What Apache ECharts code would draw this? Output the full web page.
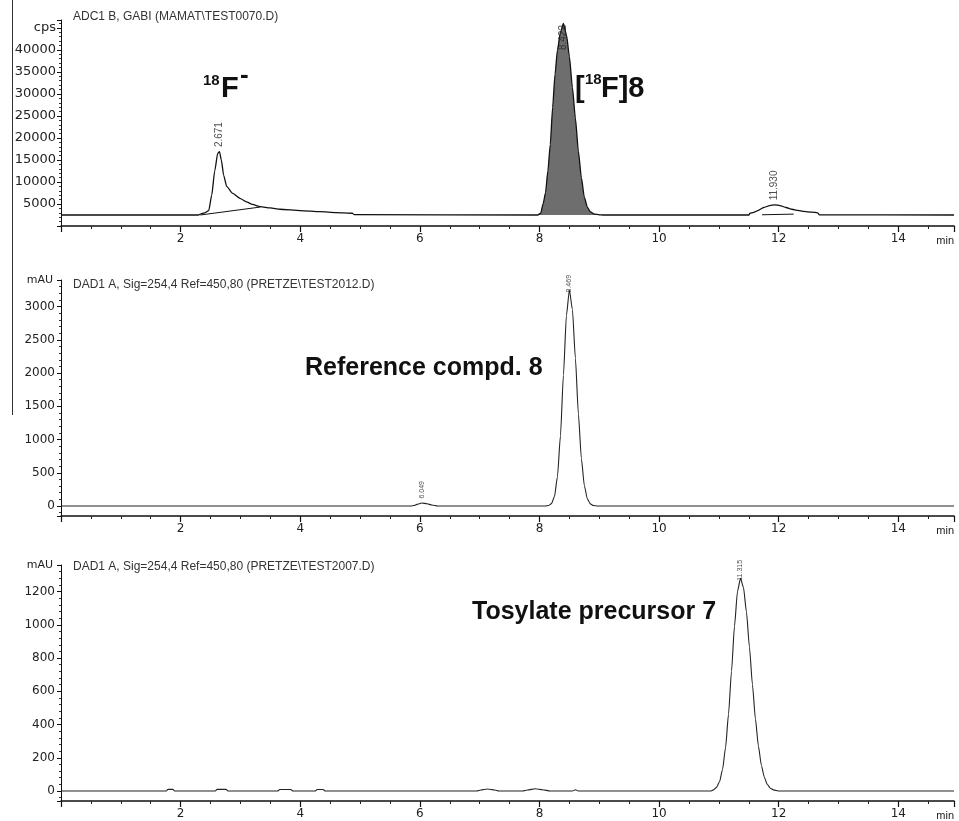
<!DOCTYPE html>
<html>
<head>
<meta charset="utf-8">
<script src="https://cdn.jsdelivr.net/npm/echarts@6/dist/echarts.min.js"></script>
<style>html,body{margin:0;padding:0;background:#fff}#c{width:959px;height:821px}</style>
</head>
<body>
<div id="c"></div>
<script>
// ---------------- DATA ----------------
// Panel 1: radio detector (cps) vs time (min)
const topSignal = [
  [0, 2500], [2.30, 2500], [2.33, 2700], [2.40, 3000], [2.47, 3500], [2.52, 7000], [2.57, 12500],
  [2.62, 16500], [2.65, 16900], [2.68, 15000], [2.72, 11500], [2.77, 9000], [2.87, 7400],
  [3.00, 6200], [3.10, 5500], [3.20, 4900], [3.33, 4400], [3.50, 4100], [3.66, 3800],
  [4.00, 3500], [4.33, 3250], [4.60, 3050], [4.87, 2900], [4.90, 2600],
  [7.97, 2500], [8.02, 2900], [8.06, 5000], [8.10, 7500], [8.14, 12500], [8.18, 18500],
  [8.22, 27000], [8.26, 34500], [8.30, 40000], [8.35, 44000], [8.40, 46000], [8.45, 43500],
  [8.50, 38500], [8.55, 31500], [8.60, 24500], [8.65, 17000], [8.70, 11000], [8.75, 6500],
  [8.80, 4300], [8.85, 3200], [8.92, 2700], [9.00, 2550], [9.06, 2500],
  [11.50, 2500], [11.52, 2900], [11.58, 3100], [11.65, 3500], [11.75, 4200], [11.85, 4650],
  [11.93, 4800], [12.02, 4650], [12.12, 4200], [12.22, 3800], [12.32, 3550], [12.42, 3300],
  [12.55, 3150], [12.65, 3000], [12.68, 2550], [14.93, 2500]
];
const topIntegration1 = [[2.33, 2500], [3.33, 4300]];
const topIntegration2 = [[11.72, 2550], [12.25, 2700]];
const topFillRange = [7.97, 9.07];
const topPeakLabels = [['2.671', 2.65], ['8.422', 8.40], ['11.930', 11.93]];

// Panel 2: UV (mAU) reference compound 8
const midSignal = [
  [0, 0], [5.85, 0], [5.90, 8], [5.95, 25], [6.03, 45], [6.12, 35], [6.20, 15], [6.30, 0],
  [8.10, 0], [8.15, 7], [8.20, 36], [8.25, 143], [8.30, 440], [8.35, 1055], [8.40, 1971],
  [8.45, 2868], [8.50, 3250], [8.55, 2957], [8.60, 2227], [8.65, 1388], [8.70, 716],
  [8.75, 306], [8.80, 108], [8.85, 32], [8.90, 8], [8.97, 0], [14.93, 0]
];
const midPeakLabels = [['6.049', 6.03], ['8.469', 8.50]];

// Panel 3: UV (mAU) tosylate precursor 7
const botSignal = [
  [0, 0], [1.76, 0], [1.79, 10], [1.87, 10], [1.90, 0], [2.58, 0], [2.61, 10], [2.76, 10], [2.79, 0],
  [3.62, 0], [3.66, 9], [3.84, 9], [3.88, 0], [4.25, 0], [4.28, 9], [4.38, 9], [4.42, 0],
  [6.95, 0], [7.02, 6], [7.13, 12], [7.25, 6], [7.32, 0], [7.72, 0], [7.80, 6], [7.93, 14],
  [8.05, 8], [8.18, 0], [8.55, 0], [8.60, 8], [8.65, 0],
  [10.86, 0], [10.91, 7], [10.96, 22], [11.01, 56], [11.06, 129], [11.11, 260], [11.16, 461],
  [11.21, 721], [11.26, 992], [11.31, 1200], [11.36, 1280], [11.41, 1226], [11.46, 1077],
  [11.51, 867], [11.56, 641], [11.61, 434], [11.66, 270], [11.71, 154], [11.76, 81],
  [11.81, 39], [11.86, 17], [11.91, 7], [12.01, 0], [14.93, 0]
];
const botPeakLabels = [['11.315', 11.36]];

const xTicks = [2, 4, 6, 8, 10, 12, 14];
const titles = [
  'ADC1 B, GABI (MAMAT\\TEST0070.D)',
  'DAD1 A, Sig=254,4 Ref=450,80 (PRETZE\\TEST2012.D)',
  'DAD1 A, Sig=254,4 Ref=450,80 (PRETZE\\TEST2007.D)'
];

// ---------------- CHART ----------------
const FONT = 'Liberation Sans, Arial, sans-serif';
const TICKFONT = 'DejaVu Sans, sans-serif';
const chart = echarts.init(document.getElementById('c'), null, {renderer: 'canvas'});

function peakAt(sig, t) {
  let best = null;
  sig.forEach(p => { if (Math.abs(p[0] - t) <= 0.2 && (!best || p[1] > best[1])) best = p; });
  return best;
}
function labelSeries(labels, sig, idx, fontSize, extra) {
  return {
    type: 'scatter', xAxisIndex: idx, yAxisIndex: idx, symbolSize: 1, z: 5,
    itemStyle: {color: 'rgba(0,0,0,0)'}, silent: true,
    data: labels.map(l => {
      const p = peakAt(sig, l[1]);
      const e = (extra && extra[l[0]]) || {};
      return {
        value: [p[0], p[1]],
        label: Object.assign({
          show: true, formatter: l[0], rotate: 90, position: 'top', distance: 4,
          align: 'left', verticalAlign: 'middle', fontSize: fontSize, color: '#222', fontFamily: FONT
        }, e)
      };
    })
  };
}
function xAxis(i) {
  return {
    type: 'value', gridIndex: i, min: 0, max: 14.93, interval: 2,
    name: 'min', nameLocation: 'end', nameGap: 0,
    nameTextStyle: {align: 'right', verticalAlign: 'top', padding: [9, 0, 0, 0], fontSize: 11, color: '#222', fontFamily: FONT},
    axisLine: {show: true, onZero: false, lineStyle: {color: '#111', width: 1.5}},
    axisTick: {show: true, length: 6, lineStyle: {color: '#111', width: 1.2}},
    minorTick: {show: true, splitNumber: 4, length: 3, lineStyle: {color: '#222'}},
    splitLine: {show: false}, minorSplitLine: {show: false},
    axisLabel: {
      margin: 7, fontSize: 12, color: '#222', fontFamily: TICKFONT, showMinLabel: true, showMaxLabel: true,
      formatter: v => xTicks.indexOf(Math.round(v * 1000) / 1000) >= 0 ? String(v) : ''
    }
  };
}
function yAxisBase(i) {
  return {
    type: 'value', gridIndex: i,
    axisLine: {show: true, onZero: false, lineStyle: {color: '#111', width: 1}},
    axisTick: {show: true, length: 4, lineStyle: {color: '#111'}},
    minorTick: {show: true, splitNumber: 5, length: 2, lineStyle: {color: '#333'}},
    splitLine: {show: false}, minorSplitLine: {show: false},
    nameTextStyle: {align: 'right', verticalAlign: 'middle', padding: [0, 8, 0, 0], fontSize: 11, color: '#222', fontFamily: TICKFONT},
    nameLocation: 'end', nameGap: 0
  };
}
const yTop = Object.assign(yAxisBase(0), {
  min: 0, max: 46800, interval: 5000,
  axisLabel: {margin: 5, fontSize: 13, color: '#222', fontFamily: TICKFONT,
    formatter: v => v === 45000 ? 'cps' : (v > 0 && v % 5000 === 0 ? String(v) : '')}
});
const yMid = Object.assign(yAxisBase(1), {
  min: -150, max: 3400, splitNumber: 7, name: 'mAU',
  axisLabel: {margin: 6, fontSize: 12, color: '#222', fontFamily: TICKFONT,
    formatter: v => (v % 500 === 0 ? String(v) : '')}
});
const yBot = Object.assign(yAxisBase(2), {
  min: -60, max: 1360, splitNumber: 7, name: 'mAU',
  axisLabel: {margin: 6, fontSize: 12, color: '#222', fontFamily: TICKFONT,
    formatter: v => (v % 200 === 0 ? String(v) : '')}
});

const lineBase = {type: 'line', symbol: 'none', smooth: 0.2, smoothMonotone: 'x', silent: true};

function txt(x, y, text, size, bold, extra) {
  return {type: 'text', x: x, y: y, silent: true, z: 10,
    style: Object.assign({text: text, fontSize: size, fontWeight: bold ? 'bold' : 'normal',
      fontFamily: FONT, fill: '#111', align: 'left', verticalAlign: 'middle'}, extra || {})};
}

const option = {
  backgroundColor: '#fff',
  animation: false,
  grid: [
    {left: 61, right: 5, top: 20, height: 206},
    {left: 61, right: 5, top: 280, height: 236},
    {left: 61, right: 5, top: 565, height: 238}
  ],
  xAxis: [xAxis(0), xAxis(1), xAxis(2)],
  yAxis: [yTop, yMid, yBot],
  series: [
    Object.assign({}, lineBase, {name: 'fill', xAxisIndex: 0, yAxisIndex: 0, z: 1,
      data: topSignal.filter(p => p[0] >= topFillRange[0] && p[0] <= topFillRange[1]),
      lineStyle: {width: 0}, areaStyle: {color: '#6e6e6e', opacity: 1, origin: 2500}}),
    Object.assign({}, lineBase, {name: 'radio', xAxisIndex: 0, yAxisIndex: 0, z: 3,
      data: topSignal, lineStyle: {color: '#111', width: 1.3}}),
    Object.assign({}, lineBase, {smooth: false, xAxisIndex: 0, yAxisIndex: 0, z: 3,
      data: topIntegration1, lineStyle: {color: '#111', width: 1}}),
    Object.assign({}, lineBase, {smooth: false, xAxisIndex: 0, yAxisIndex: 0, z: 3,
      data: topIntegration2, lineStyle: {color: '#111', width: 1}}),
    labelSeries(topPeakLabels, topSignal, 0, 10, {'8.422': {align: 'right', distance: -2}}),
    Object.assign({}, lineBase, {name: 'uv8', xAxisIndex: 1, yAxisIndex: 1, z: 3,
      data: midSignal, lineStyle: {color: '#222', width: 1.1}}),
    labelSeries(midPeakLabels, midSignal, 1, 7, {'8.469': {distance: -3}}),
    Object.assign({}, lineBase, {name: 'uv7', xAxisIndex: 2, yAxisIndex: 2, z: 3,
      data: botSignal, lineStyle: {color: '#222', width: 1.1}}),
    labelSeries(botPeakLabels, botSignal, 2, 7, {'11.315': {distance: -3}})
  ],
  graphic: [
    {type: 'line', silent: true, shape: {x1: 12.5, y1: 0, x2: 12.5, y2: 415}, style: {stroke: '#333', lineWidth: 1}},
    txt(73, 17, titles[0], 12, false, {fill: '#333'}),
    txt(73, 285, titles[1], 12, false, {fill: '#333'}),
    txt(73, 567, titles[2], 12, false, {fill: '#333'}),
    // 18F- annotation
    txt(203, 81, '18', 15, true),
    txt(221, 89, 'F', 29, true),
    txt(240, 76, '-', 26, true),
    // [18F]8 annotation
    txt(575, 89, '[', 29, true),
    txt(585, 80, '18', 15, true),
    txt(601, 89, 'F]8', 29, true),
    // compound annotations
    txt(305, 368, 'Reference compd. 8', 25, true),
    txt(472, 612, 'Tosylate precursor 7', 25, true)
  ]
};
chart.setOption(option);
</script>
</body>
</html>
